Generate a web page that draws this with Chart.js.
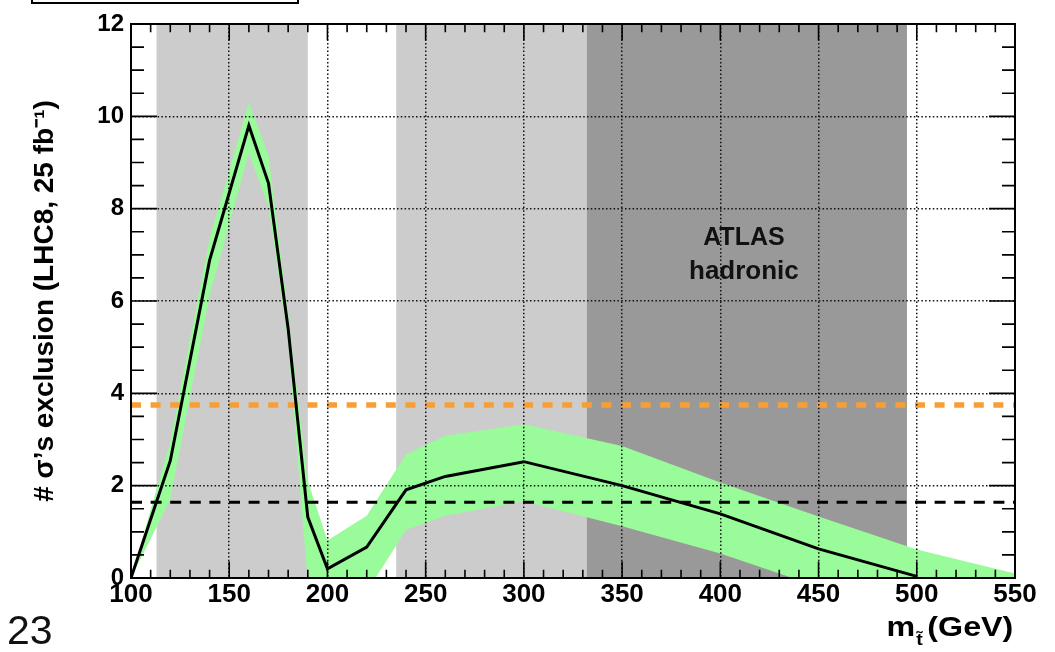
<!DOCTYPE html>
<html>
<head>
<meta charset="utf-8">
<script src="https://cdn.jsdelivr.net/npm/chart.js@4.4.0/dist/chart.umd.min.js"></script>
<style>
  html, body { margin: 0; padding: 0; background: #fff; }
  #wrap { position: relative; width: 1055px; height: 652px; overflow: hidden; }
  #c { position: absolute; left: 0; top: 0; }
  #page { position: absolute; left: 7px; top: 610px; font: 41px/41px "Liberation Sans", Arial, sans-serif; color: #111; }
  #xtitle { position: absolute; right: 42px; top: 613px; font: bold 28px/28px "Liberation Sans", Arial, sans-serif; color: #000;
            transform: scaleX(1.15); transform-origin: right center; white-space: nowrap; }
  #xtitle .sub { display: inline-block; font-size: 17px; position: relative; top: 9px; margin: 0 4px 0 1px; }
</style>
</head>
<body>
<div id="wrap">
  <canvas id="c" width="1055" height="652"></canvas>
  <div id="page">23</div>
  <div id="xtitle">m<span class="sub">t̃</span>(GeV)</div>
</div>
<script>
// ---------- data ----------
const massPoints   = [100, 120, 140, 160, 170, 180, 190, 200, 220, 240, 260, 300, 350, 400, 450, 500, 550];
const centralSigma = [0, 2.54, 6.88, 9.8, 8.55, 5.4, 1.32, 0.2, 0.67, 1.91, 2.2, 2.52, 2.0, 1.39, 0.63, 0.035, null];
const upperSigma   = [0, 2.95, 7.35, 10.3, 9.15, 5.7, 2.1, 0.81, 1.35, 2.68, 3.08, 3.33, 2.86, 2.07, 1.33, 0.62, 0.1];
const lowerSigma   = [0, 1.7, 6.12, 9.2, 8.05, 5.1, -0.1, -0.4, -0.3, 1.04, 1.35, 1.66, 1.12, 0.53, -0.19, -0.8, -1.4];
const orangeLevel  = [3.75];
const blackLevel   = [1.64];
const bandStarts   = [113, 235, 332];
const bandEnds     = [190, 332, 495];
const xTickValues  = [100, 150, 200, 250, 300, 350, 400, 450, 500, 550];
const yTickValues  = [0, 2, 4, 6, 8, 10, 12];
const annotationLines = ['ATLAS', 'hadronic'];
const annotationX  = [412, 412];
const annotationY  = [7.22, 6.47];

// ---------- styles ----------
const bandColors = ['#cccccc', '#cccccc', '#999999'];
const greenFill  = '#99fb99';
const orangeCol  = '#f99e33';
const FONT = '"Liberation Sans", Arial, Helvetica, sans-serif';

const toPts = (ys) => massPoints.map((x, i) => ({ x, y: ys[i] })).filter(p => p.y !== null);
const hline = (v) => [{ x: massPoints[0], y: v }, { x: massPoints[massPoints.length - 1], y: v }];

const decor = {
  id: 'decor',
  beforeDraw(chart) {
    const { ctx, chartArea: a, scales: { x } } = chart;
    ctx.save();
    ctx.fillStyle = '#fff';
    ctx.fillRect(0, 0, chart.width, chart.height);
    bandStarts.forEach((s, i) => {
      const x0 = x.getPixelForValue(s), x1 = x.getPixelForValue(bandEnds[i]);
      ctx.fillStyle = bandColors[i];
      ctx.fillRect(x0, a.top, x1 - x0, a.bottom - a.top);
    });
    ctx.restore();
  },
  afterDraw(chart) {
    const { ctx, chartArea: a, scales: { x, y } } = chart;
    ctx.save();
    // annotation text
    ctx.fillStyle = '#111';
    ctx.textAlign = 'center';
    ctx.textBaseline = 'alphabetic';
    annotationLines.forEach((t, i) => {
      ctx.font = 'bold ' + (i === 0 ? 25 : 26) + 'px ' + FONT;
      ctx.fillText(t, x.getPixelForValue(annotationX[i]), y.getPixelForValue(annotationY[i]));
    });
    // ticks
    ctx.strokeStyle = '#000';
    ctx.lineWidth = 1.6;
    ctx.beginPath();
    const xMajor = 16.6, xMinor = 8.3, yMajor = 26, yMinor = 13;
    for (let v = x.min; v <= x.max + 1e-9; v += 10) {
      const px = x.getPixelForValue(v);
      const len = (Math.abs((v - x.min) % 50) < 1e-6) ? xMajor : xMinor;
      ctx.moveTo(px, a.bottom); ctx.lineTo(px, a.bottom - len);
      ctx.moveTo(px, a.top); ctx.lineTo(px, a.top + len);
    }
    for (let v = y.min; v <= y.max + 1e-9; v += 0.5) {
      const py = y.getPixelForValue(v);
      const len = (Math.abs(v % 2) < 1e-6) ? yMajor : yMinor;
      ctx.moveTo(a.left, py); ctx.lineTo(a.left + len, py);
      ctx.moveTo(a.right, py); ctx.lineTo(a.right - len, py);
    }
    ctx.stroke();
    // frame
    ctx.lineWidth = 2;
    ctx.strokeRect(a.left, a.top, a.right - a.left, a.bottom - a.top);
    // clipped box at top left
    ctx.strokeRect(32, -10, 266, 13);
    ctx.restore();
  }
};

new Chart(document.getElementById('c'), {
  type: 'line',
  data: {
    datasets: [
      { label: 'expected', data: toPts(centralSigma), borderColor: '#000', borderWidth: 3,
        pointRadius: 0, fill: false, tension: 0, order: 0 },
      { label: 'orange level', data: hline(orangeLevel[0]), borderColor: orangeCol, borderWidth: 5.5,
        borderDash: [10, 9.6], pointRadius: 0, fill: false, order: 1 },
      { label: 'black level', data: hline(blackLevel[0]), borderColor: '#000', borderWidth: 3,
        borderDash: [11, 8.6], pointRadius: 0, fill: false, order: 2 },
      { label: 'upper', data: toPts(upperSigma), borderWidth: 0, borderColor: 'rgba(0,0,0,0)',
        backgroundColor: greenFill, pointRadius: 0, fill: { target: 4 }, tension: 0, order: 3 },
      { label: 'lower', data: toPts(lowerSigma), borderWidth: 0, borderColor: 'rgba(0,0,0,0)',
        pointRadius: 0, fill: false, tension: 0, order: 4 }
    ]
  },
  options: {
    responsive: false,
    animation: false,
    devicePixelRatio: 1,
    layout: { padding: { left: 0, top: 24, right: 40, bottom: 0 } },
    plugins: { legend: { display: false }, tooltip: { enabled: false } },
    scales: {
      x: {
        type: 'linear', min: 100, max: 550,
        afterFit: (s) => { s.height = 74; },
        afterBuildTicks: (s) => { s.ticks = xTickValues.map(v => ({ value: v })); },
        grid: { color: '#111', lineWidth: 1.5, drawTicks: false, z: 1 },
        border: { display: false, dash: [1.5, 2.3] },
        ticks: { color: '#000', font: { family: FONT, size: 26, weight: 'bold' }, padding: 1,
                 maxRotation: 0, autoSkip: false }
      },
      y: {
        min: 0, max: 12,
        afterFit: (s) => { s.width = 131; },
        afterBuildTicks: (s) => { s.ticks = yTickValues.map(v => ({ value: v })); },
        grid: { color: '#111', lineWidth: 1.5, drawTicks: false, z: 1 },
        border: { display: false, dash: [1.5, 2.3] },
        ticks: { color: '#000', font: { family: FONT, size: 24, weight: 'bold' }, padding: 7, autoSkip: false },
        title: { display: true, text: '# σ’s exclusion (LHC8, 25 fb⁻¹)', color: '#000',
                 font: { family: FONT, size: 28, weight: 'bold' }, padding: { top: 28, bottom: 0 } }
      }
    }
  },
  plugins: [decor]
});
</script>
</body>
</html>
